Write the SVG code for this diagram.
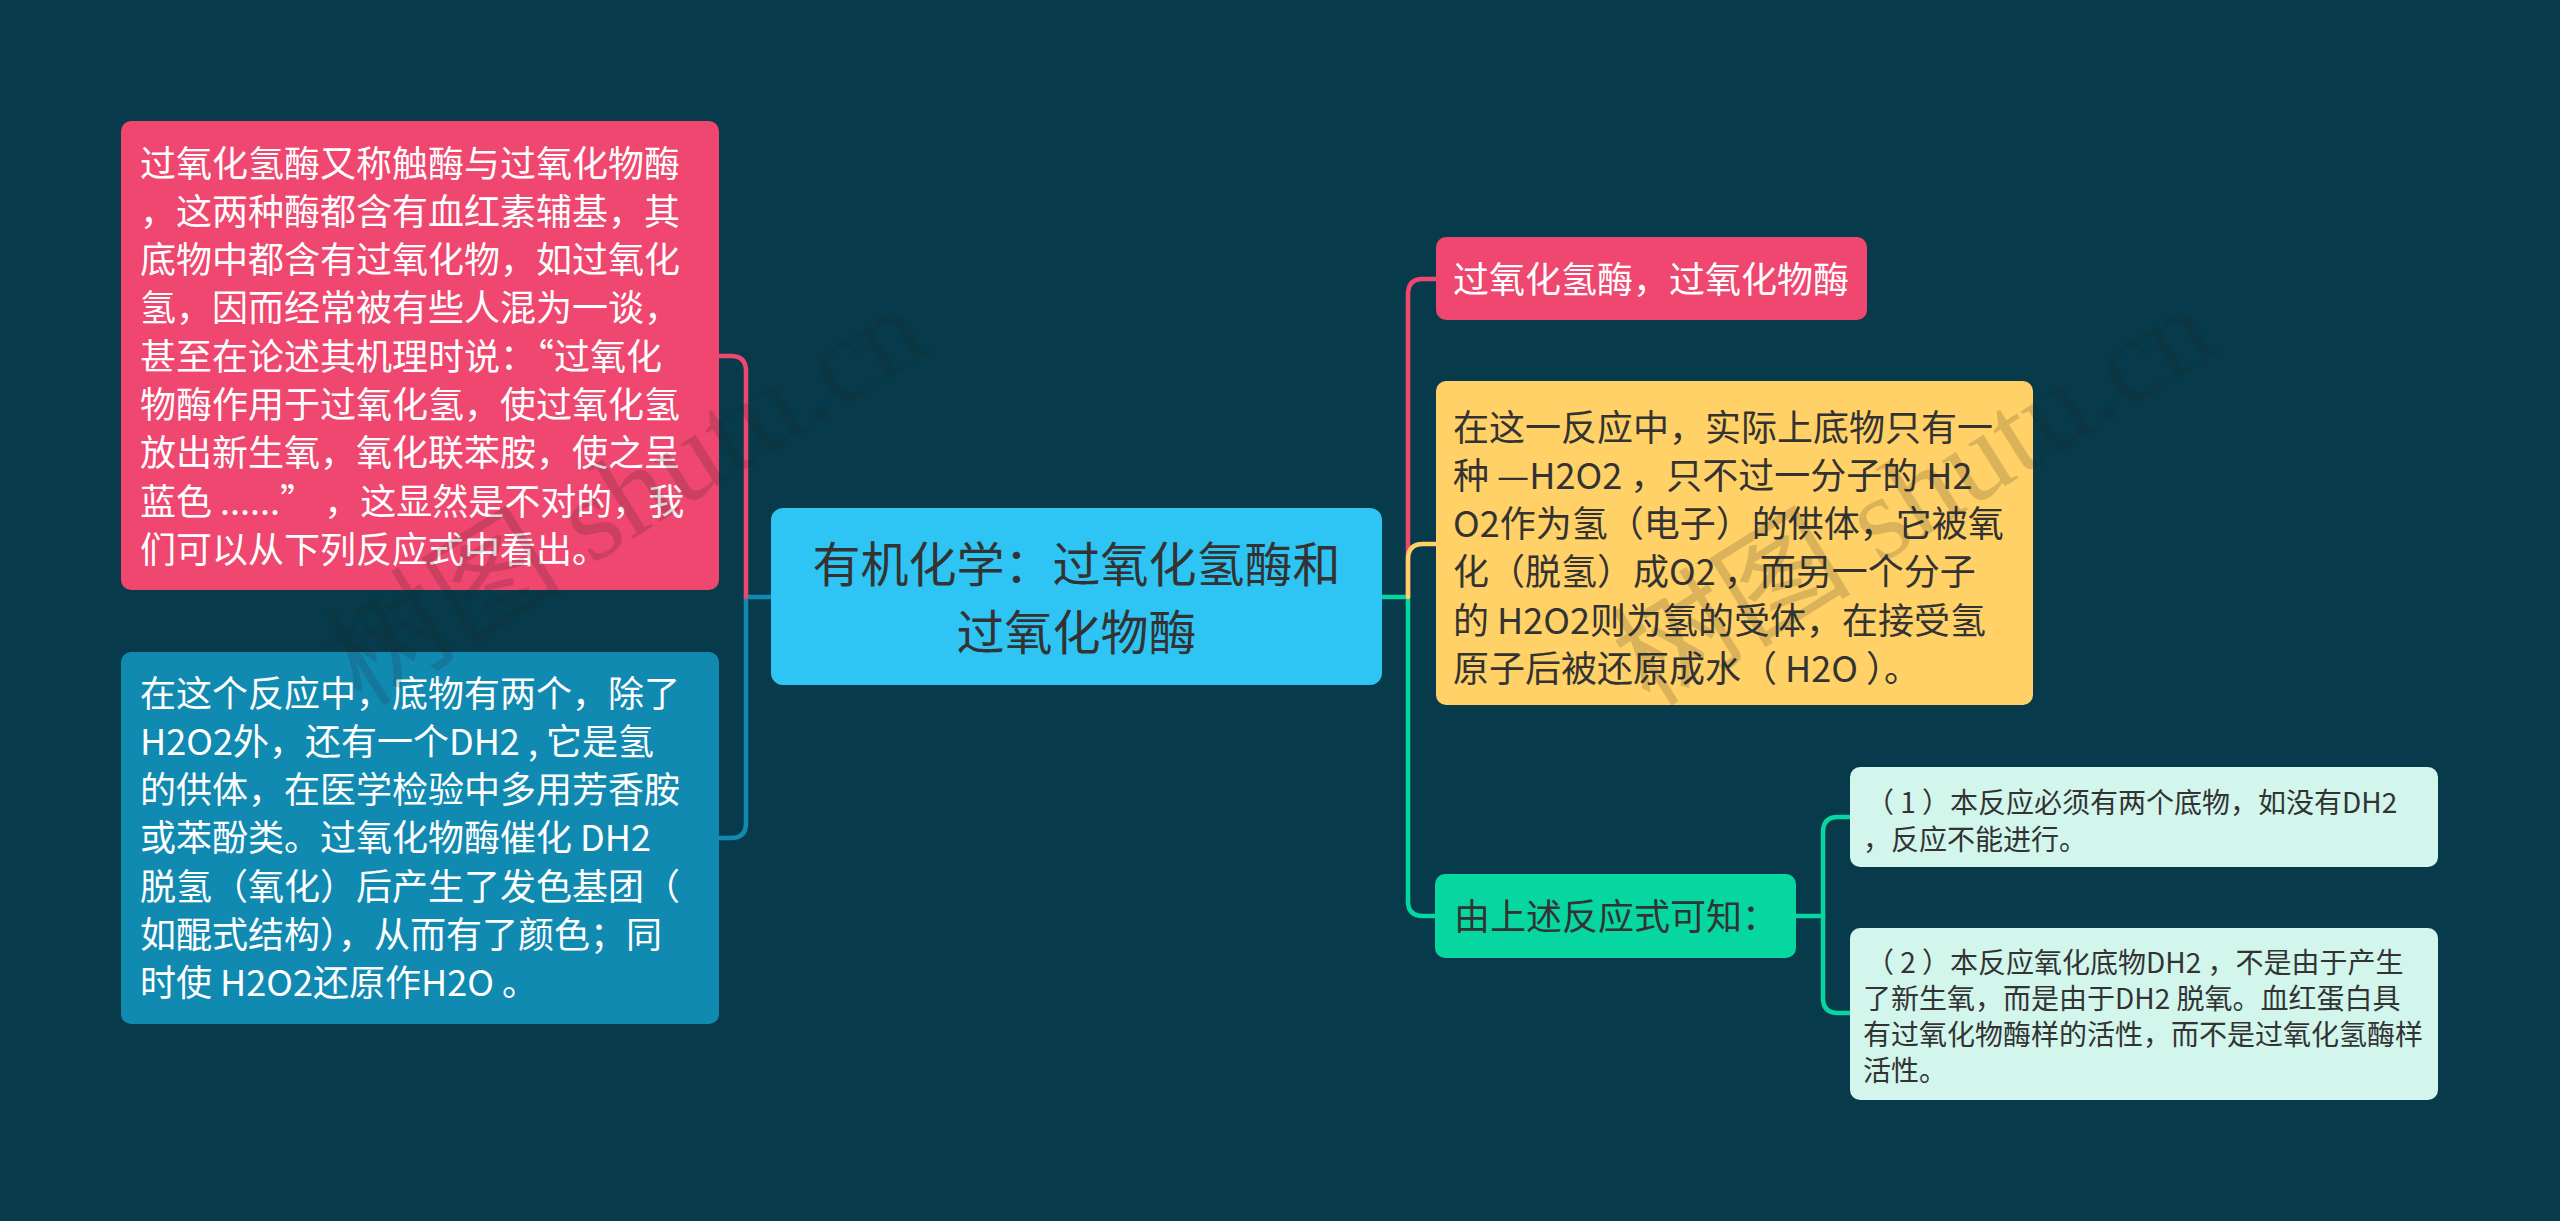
<svg xmlns="http://www.w3.org/2000/svg" width="2560" height="1221" viewBox="0 0 2560 1221">
<style>
.t{font-family:"Noto Sans CJK SC","Noto Sans",sans-serif;}
.w{fill:#ffffff;font-size:36px;}
.d{fill:#333333;font-size:36px;}
.s{fill:#333333;font-size:28px;}
.c{fill:#333333;font-size:48px;text-anchor:middle;}
.ln{fill:none;stroke-width:4.5;stroke-linecap:round;}
.wm{font-family:"Liberation Serif","DejaVu Serif","Noto Sans CJK SC",serif;font-size:120px;fill:#222222;opacity:0.17;}
</style>
<rect width="2560" height="1221" fill="#073B4C"/>
<g id="connectors">
<path class="ln" stroke="#118AB2" d="M771 597H746V823Q746 838 731 838H719"/>
<path class="ln" stroke="#EF476F" d="M746 597V371Q746 356 731 356H719"/>
<path class="ln" stroke="#06D6A0" d="M1382 597H1408V901Q1408 916 1423 916H1435"/>
<path class="ln" stroke="#EF476F" d="M1408 597V294Q1408 279 1423 279H1436"/>
<path class="ln" stroke="#FFD166" d="M1408 597V559Q1408 544 1423 544H1436"/>
<path class="ln" stroke="#06D6A0" d="M1796 916H1823V832Q1823 817 1838 817H1850"/>
<path class="ln" stroke="#06D6A0" d="M1823 916V998Q1823 1013 1838 1013H1850"/>
</g>
<g id="root">
<rect x="771" y="508" width="611" height="177" rx="12" fill="#2EC4F3"/>
<text class="t c"><tspan x="1076.5" y="582">有机化学：过氧化氢酶和</tspan><tspan x="1076.5" y="650">过氧化物酶</tspan></text>
</g>
<g id="left1">
<rect x="121" y="121" width="598" height="469" rx="10" fill="#EF476F"/>
<text class="t w">
<tspan x="140" y="176.5">过氧化氢酶又称触酶与过氧化物酶</tspan>
<tspan x="140" y="224.8">，这两种酶都含有血红素辅基，其</tspan>
<tspan x="140" y="273.1">底物中都含有过氧化物，如过氧化</tspan>
<tspan x="140" y="321.4">氢，因而经常被有些人混为一谈，</tspan>
<tspan x="140" y="369.7">甚至在论述其机理时说：“过氧化</tspan>
<tspan x="140" y="418">物酶作用于过氧化氢，使过氧化氢</tspan>
<tspan x="140" y="466.3">放出新生氧，氧化联苯胺，使之呈</tspan>
<tspan x="140" y="514.6">蓝色 ......” ，这显然是不对的，我</tspan>
<tspan x="140" y="562.9">们可以从下列反应式中看出。</tspan>
</text>
</g>
<g id="left2">
<rect x="121" y="652" width="598" height="372" rx="10" fill="#118AB2"/>
<text class="t w">
<tspan x="140" y="706.5">在这个反应中，底物有两个，除了</tspan>
<tspan x="140" y="754.8">H2O2外，还有一个DH2 , 它是氢</tspan>
<tspan x="140" y="803.1">的供体，在医学检验中多用芳香胺</tspan>
<tspan x="140" y="851.4">或苯酚类。过氧化物酶催化 DH2</tspan>
<tspan x="140" y="899.7">脱氢（氧化）后产生了发色基团（</tspan>
<tspan x="140" y="948">如醌式结构），从而有了颜色；同</tspan>
<tspan x="140" y="996.3">时使 H2O2还原作H2O 。</tspan>
</text>
</g>
<g id="right1">
<rect x="1436" y="237" width="431" height="83" rx="10" fill="#EF476F"/>
<text class="t w" x="1453" y="292.5">过氧化氢酶，过氧化物酶</text>
</g>
<g id="right2">
<rect x="1436" y="381" width="597" height="324" rx="10" fill="#FFD166"/>
<text class="t d">
<tspan x="1453" y="440.5">在这一反应中，实际上底物只有一</tspan>
<tspan x="1453" y="488.8">种 —H2O2 ，只不过一分子的 H2</tspan>
<tspan x="1453" y="537.1">O2作为氢（电子）的供体，它被氧</tspan>
<tspan x="1453" y="585.4">化（脱氢）成O2 ，而另一个分子</tspan>
<tspan x="1453" y="633.7">的 H2O2则为氢的受体，在接受氢</tspan>
<tspan x="1453" y="682">原子后被还原成水（ H2O ）。</tspan>
</text>
</g>
<g id="right3">
<rect x="1435" y="874" width="361" height="84" rx="10" fill="#06D6A0"/>
<text class="t d" x="1454" y="929.5">由上述反应式可知：</text>
</g>
<g id="sub1">
<rect x="1850" y="767" width="588" height="100" rx="10" fill="#D2F6EC"/>
<text class="t s">
<tspan x="1866" y="812.5">（ 1 ）本反应必须有两个底物，如没有DH2</tspan>
<tspan x="1863" y="849.5">，反应不能进行。</tspan>
</text>
</g>
<g id="sub2">
<rect x="1850" y="928" width="588" height="172" rx="10" fill="#D2F6EC"/>
<text class="t s">
<tspan x="1866" y="972.5">（ 2 ）本反应氧化底物DH2 ，不是由于产生</tspan>
<tspan x="1863" y="1008.8">了新生氧，而是由于DH2 脱氧。血红蛋白具</tspan>
<tspan x="1863" y="1045">有过氧化物酶样的活性，而不是过氧化氢酶样</tspan>
<tspan x="1863" y="1081">活性。</tspan>
</text>
</g>
<g id="watermarks">
<text class="wm" transform="translate(362 708) rotate(-32)">树图 shutu.cn</text>
<text class="wm" transform="translate(1650 708) rotate(-32)">树图 shutu.cn</text>
</g>
</svg>
